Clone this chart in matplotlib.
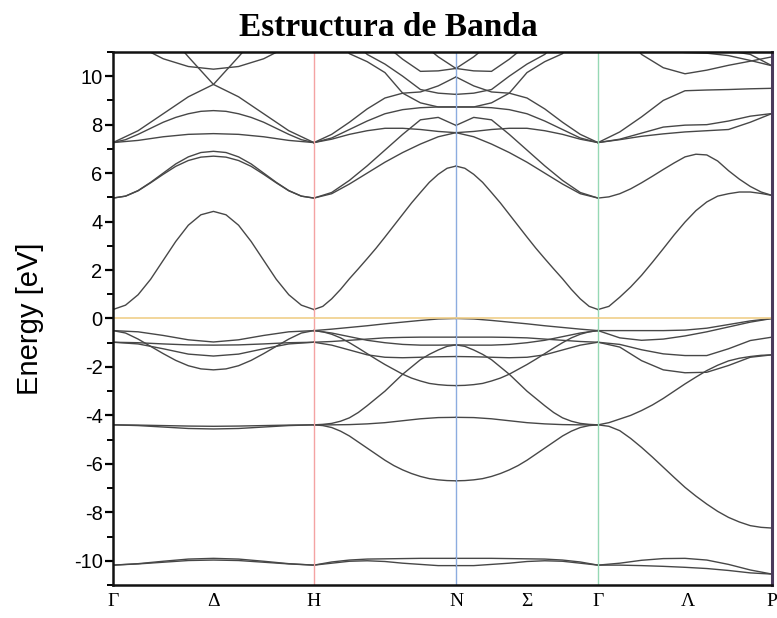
import numpy as np
import matplotlib
matplotlib.use('Agg')
import matplotlib.pyplot as plt
from matplotlib.ticker import MultipleLocator

plt.rcParams['axes.unicode_minus'] = False

# high symmetry points along the path (k distance, 2pi/a)
k_nodes = [0.0, 1.0, 1.707, 2.414, 3.280]
k_label_pos = [0.0, 0.5, 1.0, 1.707, 2.06, 2.414, 2.86, 3.280]
k_labels = ['Γ', 'Δ', 'H', 'N', 'Σ', 'Γ', 'Λ', 'P']

# bands read at equally spaced k-points inside each segment (eV)
# segment Γ-H
gh_bands = [
    [0.37, 0.55, 0.98, 1.62, 2.4, 3.18, 3.85, 4.28, 4.42, 4.28, 3.85, 3.18, 2.4, 1.62, 0.98, 0.55, 0.37],
    [4.97, 5.05, 5.28, 5.62, 6.0, 6.38, 6.67, 6.85, 6.9, 6.85, 6.67, 6.38, 6.0, 5.62, 5.28, 5.05, 4.97],
    [4.97, 5.05, 5.27, 5.6, 5.95, 6.28, 6.52, 6.66, 6.7, 6.66, 6.52, 6.28, 5.95, 5.6, 5.27, 5.05, 4.97],
    [7.26, 7.35, 7.5, 7.6, 7.63, 7.6, 7.5, 7.35, 7.26],
    [7.26, 7.38, 7.6, 7.85, 8.1, 8.3, 8.45, 8.55, 8.58, 8.55, 8.45, 8.3, 8.1, 7.85, 7.6, 7.38, 7.26],
    [7.26, 7.75, 8.45, 9.15, 9.66, 10.8, 12.0, 12.5, 12.5],
    [12.5, 12.5, 12.0, 10.8, 9.66, 9.15, 8.45, 7.75, 7.26],
    [12.5, 11.25, 10.72, 10.4, 10.29, 10.4, 10.72, 11.25, 12.5],
    [-0.5, -0.55, -0.7, -0.88, -0.97, -0.88, -0.7, -0.55, -0.5],
    [-0.5, -0.6, -0.85, -1.15, -1.45, -1.73, -1.95, -2.08, -2.12, -2.08, -1.95, -1.73, -1.45, -1.15, -0.85, -0.6, -0.5],
    [-0.98, -1.0, -1.05, -1.09, -1.1, -1.09, -1.05, -1.0, -0.98],
    [-0.98, -1.05, -1.25, -1.47, -1.55, -1.47, -1.25, -1.05, -0.98],
    [-4.39, -4.4, -4.42, -4.44, -4.45, -4.44, -4.42, -4.4, -4.39],
    [-4.39, -4.42, -4.48, -4.54, -4.56, -4.54, -4.48, -4.42, -4.39],
    [-10.18, -10.12, -10.02, -9.93, -9.9, -9.93, -10.02, -10.12, -10.18],
    [-10.18, -10.13, -10.06, -9.99, -9.97, -9.99, -10.06, -10.13, -10.18],
]

# segment H-N
hn_bands = [
    [0.37, 0.5, 0.81, 1.2, 1.64, 2.05, 2.47, 2.9, 3.36, 3.83, 4.3, 4.77, 5.2, 5.62, 5.95, 6.2, 6.29],
    [4.97, 5.15, 5.55, 6.0, 6.45, 6.85, 7.2, 7.5, 7.67],
    [4.97, 5.2, 5.7, 6.3, 6.95, 7.6, 8.2, 8.3, 7.97],
    [7.26, 7.4, 7.6, 7.75, 7.85, 7.85, 7.8, 7.72, 7.67],
    [7.26, 7.45, 7.8, 8.15, 8.45, 8.62, 8.7, 8.73, 8.73],
    [7.26, 7.6, 8.1, 8.65, 9.1, 9.3, 9.35, 9.6, 9.97],
    [13.0, 12.0, 10.93, 10.6, 10.15, 9.3, 8.9, 8.73, 8.73],
    [13.0, 12.5, 11.6, 10.9, 10.5, 10.0, 9.45, 9.3, 9.25],
    [13.0, 13.0, 12.5, 12.0, 11.3, 10.7, 10.2, 10.22, 10.32],
    [13.0, 13.0, 13.0, 12.5, 12.2, 11.8, 11.4, 10.8, 10.32],
    [-0.5, -0.44, -0.37, -0.3, -0.22, -0.15, -0.08, -0.02, 0.0],
    [-0.5, -0.55, -0.65, -0.8, -1.0, -1.22, -1.45, -1.68, -1.9, -2.1, -2.3, -2.46, -2.58, -2.68, -2.73, -2.76, -2.77],
    [-0.5, -0.6, -0.75, -0.9, -1.0, -1.07, -1.1, -1.1, -1.09],
    [-0.98, -0.95, -0.9, -0.85, -0.8, -0.78, -0.77, -0.77, -0.77],
    [-0.98, -1.1, -1.3, -1.5, -1.6, -1.62, -1.6, -1.58, -1.57],
    [-4.39, -4.37, -4.33, -4.24, -4.1, -3.88, -3.6, -3.3, -3.0, -2.65, -2.3, -2.0, -1.7, -1.48, -1.3, -1.15, -1.09],
    [-4.39, -4.39, -4.38, -4.35, -4.3, -4.22, -4.14, -4.09, -4.08],
    [-4.39, -4.42, -4.5, -4.65, -4.85, -5.1, -5.35, -5.6, -5.85, -6.07, -6.25, -6.4, -6.52, -6.61, -6.66, -6.69, -6.7],
    [-10.18, -10.05, -9.97, -9.93, -9.92, -9.91, -9.9, -9.9, -9.9],
    [-10.18, -10.1, -10.02, -10.0, -10.03, -10.1, -10.15, -10.2, -10.2],
]

# segment N-Γ is the mirror image of H-N in the picture
ng_bands = [b[::-1] for b in hn_bands]

# segment Γ-P
gp_bands = [
    [0.37, 0.5, 0.88, 1.3, 1.78, 2.32, 2.88, 3.45, 3.98, 4.45, 4.81, 5.05, 5.15, 5.22, 5.22, 5.16, 5.08],
    [4.97, 5.02, 5.15, 5.35, 5.6, 5.87, 6.15, 6.42, 6.67, 6.78, 6.75, 6.5, 6.1, 5.75, 5.45, 5.22, 5.08],
    [7.26, 7.7, 8.32, 9.0, 9.4, 9.43, 9.45, 9.48, 9.5],
    [7.26, 7.4, 7.65, 7.9, 7.98, 8.0, 8.15, 8.35, 8.46],
    [7.26, 7.38, 7.52, 7.62, 7.7, 7.75, 7.8, 8.1, 8.46],
    [13.0, 12.0, 10.9, 10.35, 10.1, 10.25, 10.45, 10.62, 10.8],
    [12.0, 11.6, 11.3, 11.05, 10.98, 10.95, 10.85, 10.65, 10.43],
    [12.5, 12.2, 11.9, 11.6, 11.3, 11.15, 11.05, 10.9, 10.43],
    [-0.5, -0.5, -0.5, -0.5, -0.48, -0.4, -0.25, -0.1, 0.0],
    [-0.5, -0.8, -0.9, -0.85, -0.72, -0.55, -0.35, -0.15, 0.0],
    [-0.98, -1.07, -1.29, -1.46, -1.53, -1.53, -1.25, -0.91, -0.77],
    [-0.98, -1.18, -1.74, -2.12, -2.24, -2.22, -1.94, -1.6, -1.5],
    [-4.39, -4.3, -4.15, -4.0, -3.8, -3.57, -3.3, -3.0, -2.7, -2.42, -2.15, -1.93, -1.75, -1.64, -1.57, -1.52, -1.5],
    [-4.39, -4.45, -4.63, -4.95, -5.32, -5.72, -6.14, -6.56, -6.97, -7.33, -7.66, -7.96, -8.21, -8.4, -8.55, -8.62, -8.65],
    [-10.18, -10.1, -9.98, -9.91, -9.9, -9.97, -10.15, -10.38, -10.55],
    [-10.18, -10.18, -10.2, -10.23, -10.27, -10.32, -10.4, -10.5, -10.55],
]

segments = [gh_bands, hn_bands, ng_bands, gp_bands]

fig = plt.figure(figsize=(7.77, 6.18), dpi=100)
ax = fig.add_axes([0.1454, 0.0534, 0.8482, 0.8625])

for i, bands in enumerate(segments):
    for e in bands:
        k = np.linspace(k_nodes[i], k_nodes[i + 1], len(e))
        ax.plot(k, e, color='#474747', lw=1.0)

# high symmetry verticals and Fermi level
ax.axvline(k_nodes[1], color='#f4a3a3', lw=1.0)
ax.axvline(k_nodes[2], color='#8cacdf', lw=1.0)
ax.axvline(k_nodes[3], color='#96d8b4', lw=1.0)
ax.axhline(0, color='#f0cf8a', lw=1.2)

ax.set_xlim(k_nodes[0], k_nodes[-1])
ax.set_ylim(-11, 11)

for side in ['left', 'bottom', 'top']:
    ax.spines[side].set_linewidth(1.8)
    ax.spines[side].set_color('#111111')
ax.spines['right'].set_linewidth(2.2)
ax.spines['right'].set_color('#4a3b5c')

ax.yaxis.set_major_locator(MultipleLocator(2))
ax.yaxis.set_minor_locator(MultipleLocator(1))
ax.tick_params(axis='y', which='major', direction='out', length=6, width=1.6,
               labelsize=14.5, pad=1.5)
ax.tick_params(axis='y', which='minor', direction='out', length=4, width=1.4)
for lab in ax.get_yticklabels():
    lab.set_family('Liberation Sans')

ax.set_xticks(k_label_pos)
ax.set_xticklabels(k_labels, family='Liberation Serif', fontsize=14)
ax.tick_params(axis='x', length=0, pad=6)

ax.set_ylabel('Energy [eV]', fontsize=21, family='Liberation Sans')
ax.yaxis.set_label_coords(-0.104, 0.5)

fig.text(0.5, 0.955, 'Estructura de Banda', ha='center', va='center',
         family='Liberation Serif', weight='bold', fontsize=24)

fig.savefig('out.png', dpi=100)
